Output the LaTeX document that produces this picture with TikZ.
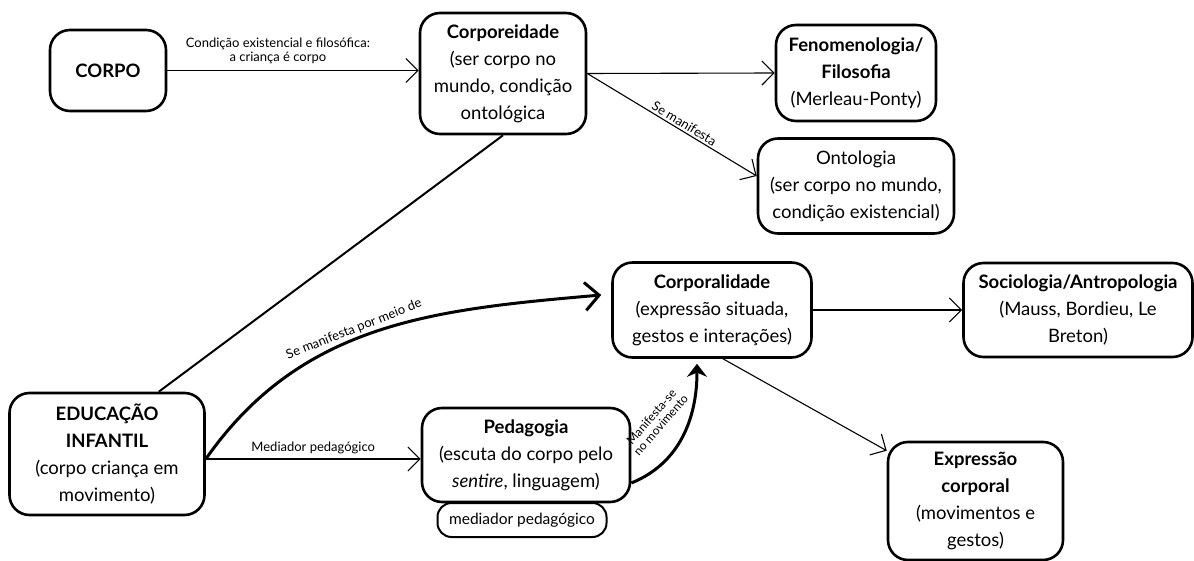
\documentclass[tikz,border=0pt]{standalone}
\usepackage{fontspec}
\setmainfont{Lato}
\usetikzlibrary{arrows.meta}
\tikzset{>=Stealth}
\tikzset{
  caixa/.style={draw, line width=2.6pt, rounded corners=20pt, align=center,
    inner sep=0pt, font=\fontsize{18.5}{27}\selectfont},
  rotulo/.style={font=\fontsize{13}{14}\selectfont, align=center, inner sep=2pt},
  seta/.style={line width=1.1pt, -{Straight Barb[length=12pt,width=24pt,line width=1.1pt]}},
  setagrossa/.style={line width=3pt, -{Straight Barb[length=14pt,width=28pt]}},
}

\begin{document}
\begin{tikzpicture}[x=1pt, y=1pt]
  \useasboundingbox (0,0) rectangle (1194,560);
  % caixas de cima
  \node[caixa, minimum width=116pt, minimum height=81pt] (corpo) at (108,489.5) {\textbf{CORPO}};
  \node[caixa, minimum width=166pt, minimum height=121pt] (corporeidade) at (503,486.5)
    {\textbf{Corporeidade}\\(ser corpo no\\mundo, condição\\ontológica};
  \node[caixa, minimum width=160pt, minimum height=96pt] (fenomenologia) at (856,487)
    {\textbf{Fenomenologia/}\\\textbf{Filosofia}\\(Merleau-Ponty)};
  \node[caixa, minimum width=196pt, minimum height=95pt] (ontologia) at (856,374)
    {Ontologia\\(ser corpo no mundo,\\condição existencial)};
  % caixas do meio e de baixo
  \node[caixa, minimum width=199pt, minimum height=95pt] (corporalidade) at (712,250)
    {\textbf{Corporalidade}\\(expressão situada,\\gestos e interações)};
  \node[caixa, minimum width=229pt, minimum height=94pt] (sociologia) at (1078,250)
    {\textbf{Sociologia/Antropologia}\\(Mauss, Bordieu, Le\\Breton)};
  \node[caixa, minimum width=195pt, minimum height=122pt] (educacao) at (107,106)
    {\textbf{EDUCAÇÃO}\\\textbf{INFANTIL}\\(corpo criança em\\movimento)};
  \node[caixa, minimum width=208pt, minimum height=94pt] (pedagogia) at (526,105)
    {\textbf{Pedagogia}\\(escuta do corpo pelo\\\textit{sentire}, linguagem)};
  \node[caixa, line width=2pt, rounded corners=14pt, minimum width=169pt, minimum height=34pt,
    font=\fontsize{15.5}{18}\selectfont] (mediador) at (522,40) {mediador pedagógico};
  \node[caixa, minimum width=175pt, minimum height=118pt] (expressao) at (975.5,59)
    {\textbf{Expressão}\\\textbf{corporal}\\(movimentos e\\gestos)};

  \coordinate (eduout) at ([yshift=-5pt]educacao.east);

  % ligacoes
  \draw[seta] (corpo.east) -- (corpo.east -| corporeidade.west)
    node[rotulo, pos=0.44, above=4pt] {Condição existencial e filosófica:\\a criança é corpo};
  \draw[seta] (corporeidade.east) -- (fenomenologia.west);
  \draw[seta] (corporeidade.east) -- ([yshift=10pt]ontologia.west)
    node[rotulo, pos=0.55, above, sloped] {Se manifesta};
  \draw[line width=2pt] (corporeidade.south) -- ([xshift=-47pt]educacao.north east);
  \draw[setagrossa] (eduout) to[out=55, in=185]
    node[rotulo, pos=0.45, above, sloped] {Se manifesta por meio de}
    ([xshift=-10pt, yshift=15pt]corporalidade.west);
  \draw[seta] (eduout) -- (eduout -| pedagogia.west)
    node[rotulo, midway, above=3pt] {Mediador pedagógico};
  \draw[line width=3pt, -{Stealth[length=13pt,width=20pt]}] ([yshift=-28pt]pedagogia.east)
    to[out=22, in=-90] ([xshift=-15pt, yshift=-5pt]corporalidade.south);
  \node[rotulo, rotate=49, inner sep=0pt, font=\fontsize{12}{12.5}\selectfont] (manifesta) at (656,139)
    {Manifesta-se\\no movimento};
  \draw[seta] (corporalidade.east) -- (corporalidade.east -| sociologia.west);
  \draw[seta] ([xshift=11pt]corporalidade.south) -- ([yshift=-10pt]expressao.north west);
\end{tikzpicture}
\end{document}
